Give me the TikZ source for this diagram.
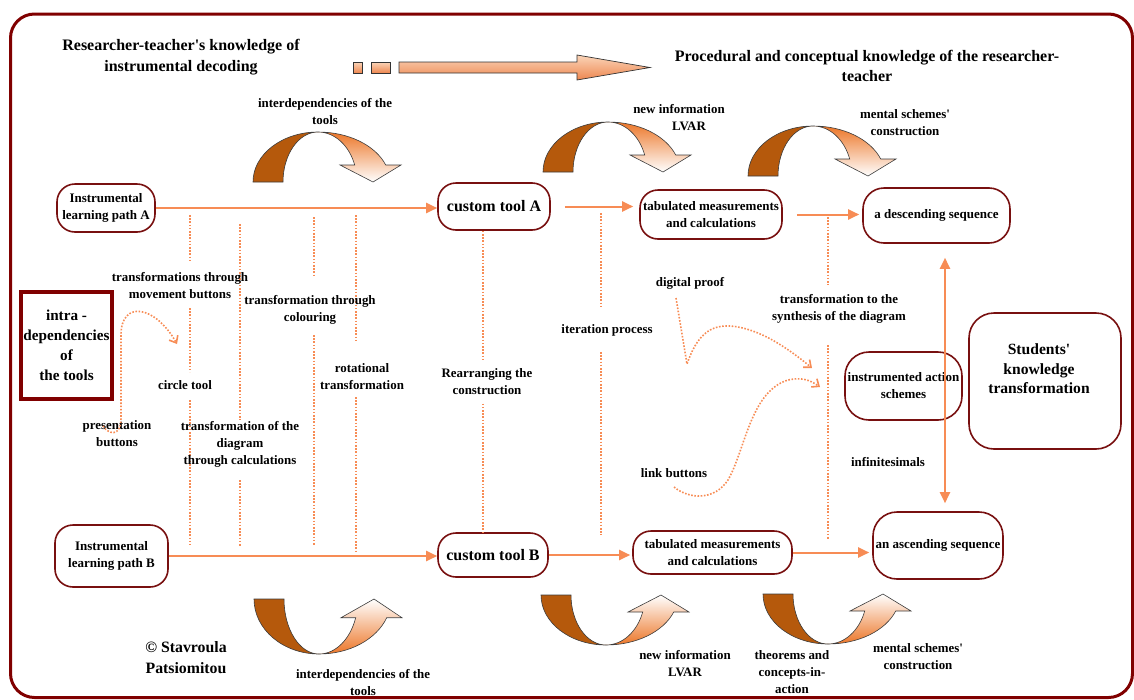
\documentclass[tikz,border=0pt]{standalone}
\usepackage{fontspec}
\setmainfont{Liberation Serif}[Ligatures=TeXOff]
\usetikzlibrary{arrows.meta,calc}
\definecolor{frameRed}{RGB}{128,0,0}
\definecolor{boxRed}{RGB}{120,16,16}
\definecolor{orLine}{RGB}{247,140,85}
\definecolor{brownF}{RGB}{181,89,12}
\definecolor{gradO}{RGB}{236,118,40}
\definecolor{outl}{RGB}{60,60,60}
\definecolor{peachT}{RGB}{250,212,184}
\definecolor{peachB}{RGB}{238,135,80}
\newcommand\fLab{\bfseries\fontsize{12.9pt}{17pt}\selectfont}
\newcommand\fBox{\bfseries\fontsize{13pt}{17pt}\selectfont}
\newcommand\fTitle{\bfseries\fontsize{16pt}{20.5pt}\selectfont}
\newcommand\fTool{\bfseries\fontsize{16pt}{19pt}\selectfont}
\newcommand\fStud{\bfseries\fontsize{15.6pt}{19.5pt}\selectfont}
\newcommand\fIntra{\bfseries\fontsize{15.2pt}{20pt}\selectfont}
\newcommand\fCopy{\bfseries\fontsize{15.8pt}{21pt}\selectfont}
\tikzset{
  box/.style={draw=boxRed, line width=1.6pt, rounded corners=18pt, fill=white, align=center, font=\fBox, inner sep=1pt},
  lab/.style={align=center, font=\fLab, inner sep=0pt},
  ttl/.style={align=center, font=\fTitle, inner sep=0pt},
  arr/.style={draw=orLine, line width=2pt, -{Triangle[length=11pt,width=10pt]}},
  dbl/.style={draw=orLine, line width=2pt, {Triangle[length=11pt,width=10pt]}-{Triangle[length=11pt,width=10pt]}},
  dotl/.style={draw=orLine, line width=1.6pt, dash pattern=on 1.6pt off 1.6pt},
  dotarr/.style={dotl, -{Straight Barb[length=6pt,width=10pt,line width=1.6pt]}},
  pics/cdown/.style={code={
    \path[fill=brownF, draw=outl, line width=0.6pt] (-65,50) arc[start angle=180,end angle=270,x radius=65,y radius=50] arc[start angle=270,end angle=180,x radius=35,y radius=50] -- cycle;
    \path[top color=gradO, bottom color=white, draw=outl, line width=0.6pt] (0,0) arc[start angle=270,end angle=340.12,x radius=72,y radius=50] -- (83,33) -- (55,50) -- (22,33) -- (36.7,33) arc[start angle=340.12,end angle=270,x radius=39,y radius=50] -- cycle;
  }},
  pics/cup/.style={code={
    \path[fill=brownF, draw=outl, line width=0.6pt] (-65,-50) arc[start angle=180,end angle=90,x radius=65,y radius=50] arc[start angle=90,end angle=180,x radius=35,y radius=50] -- cycle;
    \path[top color=white, bottom color=gradO, draw=outl, line width=0.6pt] (0,0) arc[start angle=90,end angle=19.88,x radius=72,y radius=50] -- (83,-33) -- (55,-50) -- (22,-33) -- (36.7,-33) arc[start angle=19.88,end angle=90,x radius=39,y radius=50] -- cycle;
  }},
}
\begin{document}
\begin{tikzpicture}[x=1pt,y=-1pt]
\useasboundingbox (0,0) rectangle (1134,699);
% outer frame
\draw[frameRed, line width=3pt, rounded corners=24pt] (10.5,14) rectangle (1132.5,697.5);

% titles
\node[ttl] (t1) at (181,57) {Researcher-teacher's knowledge of\\instrumental decoding};
\node[ttl] (t2) at (867,66) {Procedural and conceptual knowledge of the researcher-\\teacher};

% big top arrow
\path[draw=black!80, line width=0.7pt, top color=peachT, bottom color=peachB] (353,62) rectangle (362,73);
\path[draw=black!80, line width=0.7pt, top color=peachT, bottom color=peachB] (371,62) rectangle (390,73);
\path[draw=black!80, line width=0.7pt, top color=peachT, bottom color=peachB] (399,62) -- (577,62) -- (577,55) -- (650,67.5) -- (577,80) -- (577,73) -- (399,73) -- cycle;

% curved arrows
\pic at (318,132) {cdown};
\pic at (608,122) {cdown};
\pic at (813,126) {cdown};
\pic[yscale=1.1] at (319,654) {cup};
\pic at (606,645) {cup};
\pic at (828,644) {cup};

% vertical dotted lines
\draw[dotl] (190,215) -- (190,262) (190,308) -- (190,372) (190,400) -- (190,545);
\draw[dotl] (240,224) -- (240,420) (240,480) -- (240,547);
\draw[dotl] (314,217) -- (314,275) (314,335) -- (314,545);
\draw[dotl] (356,215) -- (356,340) (356,397) -- (356,552);
\draw[dotl] (601,213) -- (601,307) (601,352) -- (601,535);
\draw[dotl] (828,217) -- (828,285) (828,345) -- (828,540);

% boxes
\node[box, minimum width=98pt, minimum height=48pt] (pA) at (106,208) {Instrumental\\learning path A};
\node[box, minimum width=113pt, minimum height=62pt] (pB) at (111.5,556) {Instrumental\\learning path B};
\node[box, font=\fTool, minimum width=112pt, minimum height=47pt] (ctA) at (494,206.5) {custom tool A};
\node[box, font=\fTool, minimum width=110pt, minimum height=44pt] (ctB) at (493,555) {custom tool B};
\node[box, minimum width=142pt, minimum height=49pt] (tabA) at (711,214.5) {tabulated measurements\\and calculations};
\node[box, minimum width=159pt, minimum height=43pt] (tabB) at (712.5,552.5) {tabulated measurements\\and calculations};
\node[box, rounded corners=21pt, minimum width=147pt, minimum height=55pt] (desc) at (936.5,215.5) {a descending sequence};
\node[box, rounded corners=24pt, minimum width=130pt, minimum height=67pt] (asc) at (938,545.5) {an ascending sequence};
\node[box, rounded corners=24pt, minimum width=117pt, minimum height=68pt] (ias) at (903.5,386) {instrumented action\\schemes};
\node[box, rounded corners=25pt, minimum width=152pt, minimum height=136pt] (stud) at (1045,381) {};
\node[align=center, font=\fStud, inner sep=0pt] (studT) at (1039,369) {Students'\\knowledge\\transformation};
\node[draw=frameRed, line width=4pt, minimum width=91pt, minimum height=107pt, inner sep=0pt, align=center, font=\fIntra] (intra) at (66.5,345.5) {intra -\\dependencies\\of\\the tools};

% solid arrows
\draw[arr] (pA) -- (pA -| ctA.west);
\draw[arr, shorten <=14pt, shorten >=6pt] (ctA.east) -- (ctA.east -| tabA.west);
\draw[arr, shorten <=14pt, shorten >=3pt] (tabA.east) -- (tabA.east -| desc.west);
\draw[arr] (pB) -- (pB -| ctB.west);
\draw[arr, shorten >=2pt] (ctB.east) -- (ctB.east -| tabB.west);
\draw[arr, shorten >=3pt] (tabB.east) -- (tabB.east -| asc.west);
\draw[dbl] ($(desc.south)+(8.5,14)$) -- ($(asc.north)+(7,-8)$);

% dotted connector between custom tools
\draw[dotl] ($(ctA.south)+(-11,0)$) -- node[lab, fill=white, xshift=4pt, inner xsep=1pt, inner ysep=8pt] (rearr) {Rearranging the\\construction} ($(ctB.north)+(-10,0)$);

% labels
\node[lab] (l1) at (325,112) {interdependencies of the\\tools};
\node[lab] (l2) at (679,118) {new information\\\hspace*{20pt}LVAR};
\node[lab] (l3) at (905,122.5) {mental schemes'\\construction};
\node[lab] (l4) at (180,285.5) {transformations through\\movement buttons};
\node[lab] (l5) at (310,309.5) {transformation through\\colouring};
\node[lab] (l6) at (690,283) {digital proof};
\node[lab] (l7) at (839,309) {transformation to the\\synthesis of the diagram};
\node[lab] (l8) at (607,330) {iteration process};
\node[lab] (l9) at (362,377) {rotational\\transformation};
\node[lab] (l10) at (185,385) {circle tool};
\node[lab] (l11) at (117,433.5) {presentation\\buttons};
\node[lab] (l12) at (240,444.5) {transformation of the\\diagram\\through calculations};
\node[lab] (l13) at (888,462) {infinitesimals};
\node[lab] (l14) at (674,473) {link buttons};
\node[align=center, font=\fCopy, inner sep=0pt] (copy) at (186,657.5) {© Stavroula\\Patsiomitou};
\node[lab] (l15) at (363,683) {interdependencies of the\\tools};
\node[lab] (l16) at (685,663.5) {new information\\LVAR};
\node[lab] (l17) at (792,672) {theorems and\\concepts-in-\\action};
\node[lab] (l18) at (918,656.5) {mental schemes'\\construction};

% dotted curved arrows
\draw[dotarr] (103,426) .. controls (108,434) and (121,438) .. (121,418) -- (121,335) .. controls (121,300) and (155,305) .. (177,344);
\draw[dotarr] (676,298) -- (687,364) .. controls (697,335) and (710,325) .. (730,326) .. controls (760,328) and (790,350) .. (812,368);
\draw[dotarr] (674,487) .. controls (690,500) and (715,500) .. (728,480) .. controls (745,450) and (750,395) .. (785,381) .. controls (800,376) and (810,380) .. (820,387);
\end{tikzpicture}
\end{document}
